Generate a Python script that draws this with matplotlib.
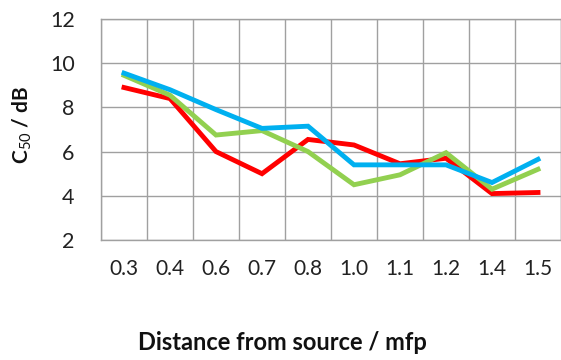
import matplotlib
matplotlib.use("Agg")
import matplotlib.pyplot as plt
import numpy as np

categories = ["0.3", "0.4", "0.6", "0.7", "0.8", "1.0", "1.1", "1.2", "1.4", "1.5"]
red_vals = [8.9, 8.4, 6.0, 5.0, 6.55, 6.3, 5.45, 5.7, 4.1, 4.15]
green_vals = [9.45, 8.55, 6.75, 6.95, 6.0, 4.5, 4.95, 5.95, 4.3, 5.2]
blue_vals = [9.55, 8.8, 7.9, 7.05, 7.15, 5.4, 5.4, 5.4, 4.6, 5.65]
yticks = [2, 4, 6, 8, 10, 12]

plt.rcParams['font.family'] = ['Lato', 'DejaVu Sans']
plt.rcParams['mathtext.fontset'] = 'custom'
plt.rcParams['mathtext.rm'] = 'Lato'
plt.rcParams['mathtext.bf'] = 'Lato:bold'

fig = plt.figure(figsize=(5.61, 3.60), dpi=100)
ax = fig.add_axes([101/561, 1 - 240/360, 460/561, 221/360])

x = np.arange(len(categories))
grid_c = '#a0a0a0'
ax.plot(x, red_vals, color='#ff0000', lw=3.5, solid_joinstyle='miter', zorder=3)
ax.plot(x, green_vals, color='#92d050', lw=3.5, solid_joinstyle='miter', zorder=3)
ax.plot(x, blue_vals, color='#00b0f0', lw=3.5, solid_joinstyle='miter', zorder=4)

ax.set_xlim(-0.5, len(categories) - 0.5)
ax.set_ylim(2, 12)
ax.set_xticks(x)
ax.set_xticklabels(categories, fontsize=15, color='#222222')
ax.set_xticks(np.arange(-0.5, len(categories), 1.0), minor=True)
ax.set_yticks(yticks)
ax.set_yticklabels([str(v) for v in yticks], fontsize=15.5, color='#222222')
ax.tick_params(axis='both', which='both', length=0)
ax.tick_params(axis='x', pad=14)
ax.tick_params(axis='y', pad=19)
ax.grid(True, axis='y', which='major', color=grid_c, lw=1.0)
ax.grid(True, axis='x', which='minor', color=grid_c, lw=1.0)
ax.grid(False, axis='x', which='major')
for s in ax.spines.values():
    s.set_color(grid_c)
    s.set_linewidth(1.0)

fig.text(282/561, 1 - 343/360, 'Distance from source / mfp', ha='center', va='center',
         fontsize=17, fontweight='bold', color='#111111')
fig.text(22/561, 1 - 125/360, r'C$_{50}$ / dB', ha='center', va='center', rotation=90,
         fontsize=15, fontweight='bold', color='#111111')

fig.savefig('out.png', dpi=100)
